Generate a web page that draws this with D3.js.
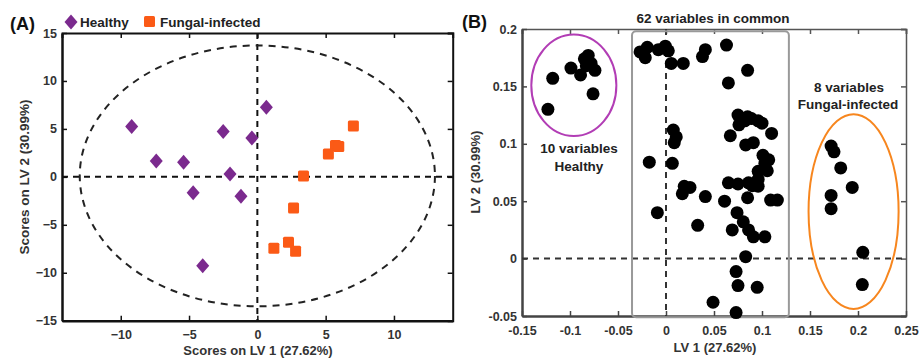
<!DOCTYPE html>
<html>
<head>
<meta charset="utf-8">
<script src="https://cdn.jsdelivr.net/npm/d3@7"></script>
<style>
  body { margin: 0; background: #fff; }
  svg { display: block; font-family: "Liberation Sans", Arial, sans-serif; }
</style>
</head>
<body>
<div id="chart"></div>
<script>
// (A) scores
const healthyX = [-9.2, -7.4, -5.4, -2.5, -2.0, -4.7, -1.2, -0.4, 0.66, -4.0];
const healthyY = [5.25, 1.64, 1.53, 4.73, 0.31, -1.67, -2.02, 4.04, 7.27, -9.26];
const fungalX = [7.03, 5.72, 5.96, 5.2, 3.38, 2.65, 1.21, 2.28, 2.8];
const fungalY = [5.29, 3.27, 3.16, 2.37, 0.1, -3.24, -7.44, -6.82, -7.76];
const scoreTicksX = [-10, -5, 0, 5, 10];
const scoreTicksY = [-15, -10, -5, 0, 5, 10, 15];

// (B) loadings
const healthyVarX = [-0.123, -0.118, -0.099, -0.089, -0.085, -0.081, -0.078, -0.074, -0.076, -0.083];
const healthyVarY = [0.130, 0.157, 0.166, 0.160, 0.174, 0.177, 0.170, 0.164, 0.1435, 0.168];
const fungalVarX = [0.172, 0.175, 0.182, 0.194, 0.172, 0.172, 0.205, 0.2045];
const fungalVarY = [0.098, 0.093, 0.079, 0.062, 0.055, 0.0435, 0.0055, -0.0226];
const commonVarX = [-0.027, -0.0195, -0.0216, -0.008, -0.0007, 0.0024, 0.0055, 0.018, 0.041, 0.038,
  0.0076, 0.0107, 0.0086, -0.0174, 0.0066, 0.063, 0.085, 0.065, 0.075, 0.085,
  0.076, 0.096, 0.100, 0.089, 0.067, 0.110, 0.083, 0.091, 0.101, 0.107,
  0.096, 0.1055, 0.065, 0.075, 0.086, 0.096, 0.096, 0.061, 0.085, 0.109,
  0.116, 0.074, 0.0805, 0.069, 0.086, 0.091, 0.103, 0.083, 0.073, 0.075,
  0.095, 0.049, 0.073, 0.019, 0.025, 0.017, 0.041, -0.009, 0.033, 0.103,
  0.082, 0.090];
const commonVarY = [0.180, 0.184, 0.175, 0.182, 0.185, 0.181, 0.170, 0.170, 0.182, 0.176,
  0.112, 0.106, 0.101, 0.084, 0.083, 0.186, 0.164, 0.153, 0.125, 0.1235,
  0.1165, 0.120, 0.118, 0.122, 0.107, 0.109, 0.099, 0.101, 0.090, 0.086,
  0.076, 0.0765, 0.066, 0.065, 0.066, 0.069, 0.063, 0.050, 0.053, 0.051,
  0.051, 0.040, 0.032, 0.025, 0.025, 0.019, 0.019, 0.0017, -0.0113, -0.0235,
  -0.025, -0.038, -0.047, 0.063, 0.062, 0.0565, 0.054, 0.040, 0.029, 0.083,
  0.120, 0.0635];
const loadTicksX = [-0.15, -0.1, -0.05, 0, 0.05, 0.1, 0.15, 0.2, 0.25];
const loadTicksY = [-0.05, 0, 0.05, 0.1, 0.15, 0.2];

const W = 920, H = 358;
const PURPLE = '#7b2a8e', ORANGE = '#fb5a16';

const svg = d3.select('#chart').append('svg')
  .attr('width', W).attr('height', H);

function styleAxis(g, color, width) {
  g.select('.domain').attr('stroke', color).attr('stroke-width', width);
  g.selectAll('.tick line').attr('stroke', color).attr('stroke-width', 1.5);
  g.selectAll('.tick text')
    .style('font-size', '12.5px').style('font-weight', 'bold').attr('fill', '#333');
}

// ---------- Panel A ----------
const xA = d3.scaleLinear().domain([-14.3, 14.3]).range([62, 452.7]);
const yA = d3.scaleLinear().domain([-15, 15]).range([320.7, 33]);
const gA = svg.append('g');

// box: top / right, then bottom / left
gA.append('g').attr('transform', `translate(0,${yA(15)})`)
  .call(d3.axisTop(xA).tickValues(scoreTicksX).tickSize(-5).tickFormat(''))
  .call(g => styleAxis(g, '#111', 2));
gA.append('g').attr('transform', `translate(${xA(14.3)},0)`)
  .call(d3.axisRight(yA).tickValues(scoreTicksY).tickSize(-5).tickFormat(''))
  .call(g => styleAxis(g, '#111', 2));
gA.append('g').attr('transform', `translate(0,${yA(-15)})`)
  .call(d3.axisBottom(xA).tickValues(scoreTicksX).tickSize(-5).tickPadding(9).tickSizeOuter(0))
  .call(g => styleAxis(g, '#111', 2.5));
gA.append('g').attr('transform', `translate(${xA(-14.3)},0)`)
  .call(d3.axisLeft(yA).tickValues(scoreTicksY).tickSize(-5).tickPadding(5).tickSizeOuter(0))
  .call(g => styleAxis(g, '#111', 2.5));

// dashed zero lines and confidence ellipse
gA.append('line')
  .attr('x1', xA(0)).attr('x2', xA(0)).attr('y1', yA(15)).attr('y2', yA(-15))
  .attr('stroke', '#111').attr('stroke-width', 2).attr('stroke-dasharray', '6,5');
gA.append('line')
  .attr('x1', xA(-14.3)).attr('x2', xA(14.3)).attr('y1', yA(0)).attr('y2', yA(0))
  .attr('stroke', '#111').attr('stroke-width', 2).attr('stroke-dasharray', '6,5');
gA.append('ellipse')
  .attr('cx', xA(0)).attr('cy', yA(0.1))
  .attr('rx', xA(13) - xA(0)).attr('ry', yA(0) - yA(13.6))
  .attr('fill', 'none').attr('stroke', '#222').attr('stroke-width', 2)
  .attr('stroke-dasharray', '7,6');

const diamond = 'M0,-7.5L6.5,0L0,7.5L-6.5,0Z';
gA.selectAll('.healthy').data(healthyX).join('path')
  .attr('class', 'healthy')
  .attr('d', diamond)
  .attr('transform', (d, i) => `translate(${xA(d)},${yA(healthyY[i])})`)
  .attr('fill', PURPLE);
gA.selectAll('.fungal').data(fungalX).join('rect')
  .attr('class', 'fungal')
  .attr('x', d => xA(d) - 5.5).attr('y', (d, i) => yA(fungalY[i]) - 5.5)
  .attr('width', 11).attr('height', 11).attr('rx', 1.5)
  .attr('fill', ORANGE);

// labels and legend
gA.append('text').attr('x', 10).attr('y', 30)
  .style('font-size', '18px').style('font-weight', 'bold').attr('fill', '#111').text('(A)');
gA.append('path').attr('d', diamond).attr('transform', 'translate(71,22)').attr('fill', PURPLE);
gA.append('text').attr('x', 80).attr('y', 27)
  .style('font-size', '13.5px').style('font-weight', 'bold').attr('fill', '#222').text('Healthy');
gA.append('rect').attr('x', 144).attr('y', 16).attr('width', 11).attr('height', 11)
  .attr('rx', 1.5).attr('fill', ORANGE);
gA.append('text').attr('x', 160).attr('y', 27)
  .style('font-size', '13.5px').style('font-weight', 'bold').attr('fill', '#222').text('Fungal-infected');
gA.append('text').attr('x', 258).attr('y', 355).attr('text-anchor', 'middle')
  .style('font-size', '13px').style('font-weight', 'bold').attr('fill', '#333')
  .text('Scores on LV 1 (27.62%)');
gA.append('text').attr('transform', 'translate(29,177) rotate(-90)').attr('text-anchor', 'middle')
  .style('font-size', '13.5px').style('font-weight', 'bold').attr('fill', '#333')
  .text('Scores on LV 2 (30.99%)');

// ---------- Panel B ----------
const xB = d3.scaleLinear().domain([-0.15, 0.25]).range([522, 906]);
const yB = d3.scaleLinear().domain([-0.05, 0.2]).range([316, 29]);
const gB = svg.append('g');

gB.append('g').attr('transform', `translate(0,${yB(0.2)})`)
  .call(d3.axisTop(xB).tickValues(loadTicksX).tickSize(-5).tickFormat(''))
  .call(g => styleAxis(g, '#555', 1.5));
gB.append('g').attr('transform', `translate(${xB(0.25)},0)`)
  .call(d3.axisRight(yB).tickValues(loadTicksY).tickSize(-5).tickFormat(''))
  .call(g => styleAxis(g, '#555', 1.5));
gB.append('g').attr('transform', `translate(0,${yB(-0.05)})`)
  .call(d3.axisBottom(xB).tickValues(loadTicksX).tickSize(-5).tickPadding(10).tickSizeOuter(0)
    .tickFormat(d => String(d)))
  .call(g => styleAxis(g, '#444', 2.5));
gB.append('g').attr('transform', `translate(${xB(-0.15)},0)`)
  .call(d3.axisLeft(yB).tickValues(loadTicksY).tickSize(-5).tickPadding(5).tickSizeOuter(0)
    .tickFormat(d => String(d)))
  .call(g => styleAxis(g, '#444', 2.5));

gB.append('line')
  .attr('x1', xB(0)).attr('x2', xB(0)).attr('y1', yB(0.2)).attr('y2', yB(-0.05))
  .attr('stroke', '#333').attr('stroke-width', 2).attr('stroke-dasharray', '6,5');
gB.append('line')
  .attr('x1', xB(-0.15)).attr('x2', xB(0.25)).attr('y1', yB(0)).attr('y2', yB(0))
  .attr('stroke', '#333').attr('stroke-width', 2).attr('stroke-dasharray', '6,5');

// group outlines
gB.append('rect')
  .attr('x', xB(-0.0354)).attr('y', yB(0.198))
  .attr('width', xB(0.128) - xB(-0.0354)).attr('height', yB(-0.051) - yB(0.198))
  .attr('rx', 4).attr('fill', 'none').attr('stroke', '#999').attr('stroke-width', 2);
gB.append('ellipse')
  .attr('cx', xB(-0.096)).attr('cy', yB(0.151))
  .attr('rx', xB(-0.0517) - xB(-0.096)).attr('ry', yB(0.151) - yB(0.1953))
  .attr('fill', 'none').attr('stroke', '#b23db5').attr('stroke-width', 2);
gB.append('ellipse')
  .attr('cx', xB(0.1954)).attr('cy', yB(0.041))
  .attr('rx', xB(0.2423) - xB(0.1954)).attr('ry', yB(0.041) - yB(0.1258))
  .attr('fill', 'none').attr('stroke', '#f7861e').attr('stroke-width', 2);

const allVarX = healthyVarX.concat(commonVarX, fungalVarX);
const allVarY = healthyVarY.concat(commonVarY, fungalVarY);
gB.selectAll('.var').data(allVarX).join('circle')
  .attr('class', 'var')
  .attr('cx', d => xB(d)).attr('cy', (d, i) => yB(allVarY[i]))
  .attr('r', 6.5).attr('fill', '#000');

// annotations
const note = (x, y, t) => gB.append('text').attr('x', x).attr('y', y).attr('text-anchor', 'middle')
  .style('font-size', '13.5px').style('font-weight', 'bold').attr('fill', '#222').text(t);
note(579, 153, '10 variables');
note(579, 171, 'Healthy');
note(849, 92, '8 variables');
note(848, 109, 'Fungal-infected');
note(713, 23, '62 variables in common');

gB.append('text').attr('x', 462).attr('y', 28)
  .style('font-size', '18px').style('font-weight', 'bold').attr('fill', '#111').text('(B)');
gB.append('text').attr('x', 715).attr('y', 352).attr('text-anchor', 'middle')
  .style('font-size', '13px').style('font-weight', 'bold').attr('fill', '#333')
  .text('LV 1 (27.62%)');
gB.append('text').attr('transform', 'translate(480,172) rotate(-90)').attr('text-anchor', 'middle')
  .style('font-size', '13px').style('font-weight', 'bold').attr('fill', '#333')
  .text('LV 2 (30.99%)');
</script>
</body>
</html>
